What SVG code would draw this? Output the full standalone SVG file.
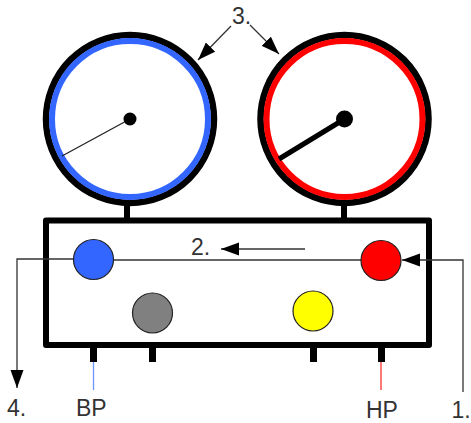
<svg xmlns="http://www.w3.org/2000/svg" width="471" height="423" viewBox="0 0 471 423">
<style>
text{font-family:"Liberation Sans",Arial,sans-serif;font-size:23px;fill:#333}
.k{fill:none;stroke:#000}
.c{stroke:#222;stroke-width:1.2}
.l{fill:none;stroke:#333;stroke-width:1.3}
</style>
<defs>
<marker id="a" markerUnits="userSpaceOnUse" markerWidth="20" markerHeight="14" refX="18" refY="7" orient="auto"><path d="M0 0.500L18 7L0 13.500Z" fill="#000"/></marker>
</defs>
<rect width="471" height="423" fill="#fff"/>
<g id="gauge-low">
<line class="k" x1="127" y1="203" x2="127" y2="221" stroke-width="6"/>
<circle class="k" cx="130" cy="119" r="84" stroke-width="6.5"/>
<circle cx="130" cy="119" r="78" fill="#fff" stroke="#3366ff" stroke-width="6"/>
<line x1="130" y1="119" x2="62" y2="156" stroke="#222" stroke-width="1.3"/>
<circle cx="130" cy="119" r="6.5" fill="#000"/>
</g>
<g id="gauge-high">
<line class="k" x1="344" y1="203" x2="344" y2="221" stroke-width="6"/>
<circle class="k" cx="344.500" cy="119" r="84" stroke-width="6.5"/>
<circle cx="344.500" cy="119" r="78" fill="#fff" stroke="#ff0000" stroke-width="6"/>
<line x1="344.500" y1="119" x2="279" y2="159" stroke="#000" stroke-width="5"/>
<circle cx="344.500" cy="119" r="8.500" fill="#000"/>
</g>
<g id="manifold">
<rect class="k" x="46" y="220.500" width="383" height="124.500" stroke-width="6" stroke-linejoin="round"/>
<rect x="90" y="347" width="7" height="15" fill="#000"/>
<rect x="149" y="347" width="7" height="15" fill="#000"/>
<rect x="310" y="347" width="7" height="15" fill="#000"/>
<rect x="378" y="347" width="7" height="15" fill="#000"/>
<line x1="93.500" y1="362" x2="93.500" y2="390" stroke="#6f94ff" stroke-width="1.300"/>
<line x1="381" y1="362" x2="381" y2="390" stroke="#ff3030" stroke-width="1.300"/>
</g>
<g id="connectors">
<path class="l" d="M463 392V260H402" marker-end="url(#a)"/>
<path class="l" d="M113 260H361"/>
<path class="l" d="M74 259H17V388" marker-end="url(#a)"/>
<path class="l" d="M305 249H221" marker-end="url(#a)"/>
<path class="l" d="M231 26L198 60" marker-end="url(#a)"/>
<path class="l" d="M250 25L279 54" marker-end="url(#a)"/>
</g>
<g id="valve-blue"><circle class="c" cx="93.500" cy="259.500" r="20" fill="#3366ff"/></g>
<g id="valve-gray"><circle class="c" cx="152.500" cy="313" r="20" fill="#808080"/></g>
<g id="valve-yellow"><circle class="c" cx="313" cy="311" r="20" fill="#ffff00"/></g>
<g id="valve-red"><circle class="c" cx="381" cy="260.500" r="20" fill="#ff0000"/></g>
<g id="labels">
<text x="232" y="24">3.</text>
<text x="191" y="255">2.</text>
<text x="7" y="416">4.</text>
<text x="76" y="416">BP</text>
<text x="366" y="418">HP</text>
<text x="451.500" y="418">1.</text>
</g>
</svg>
